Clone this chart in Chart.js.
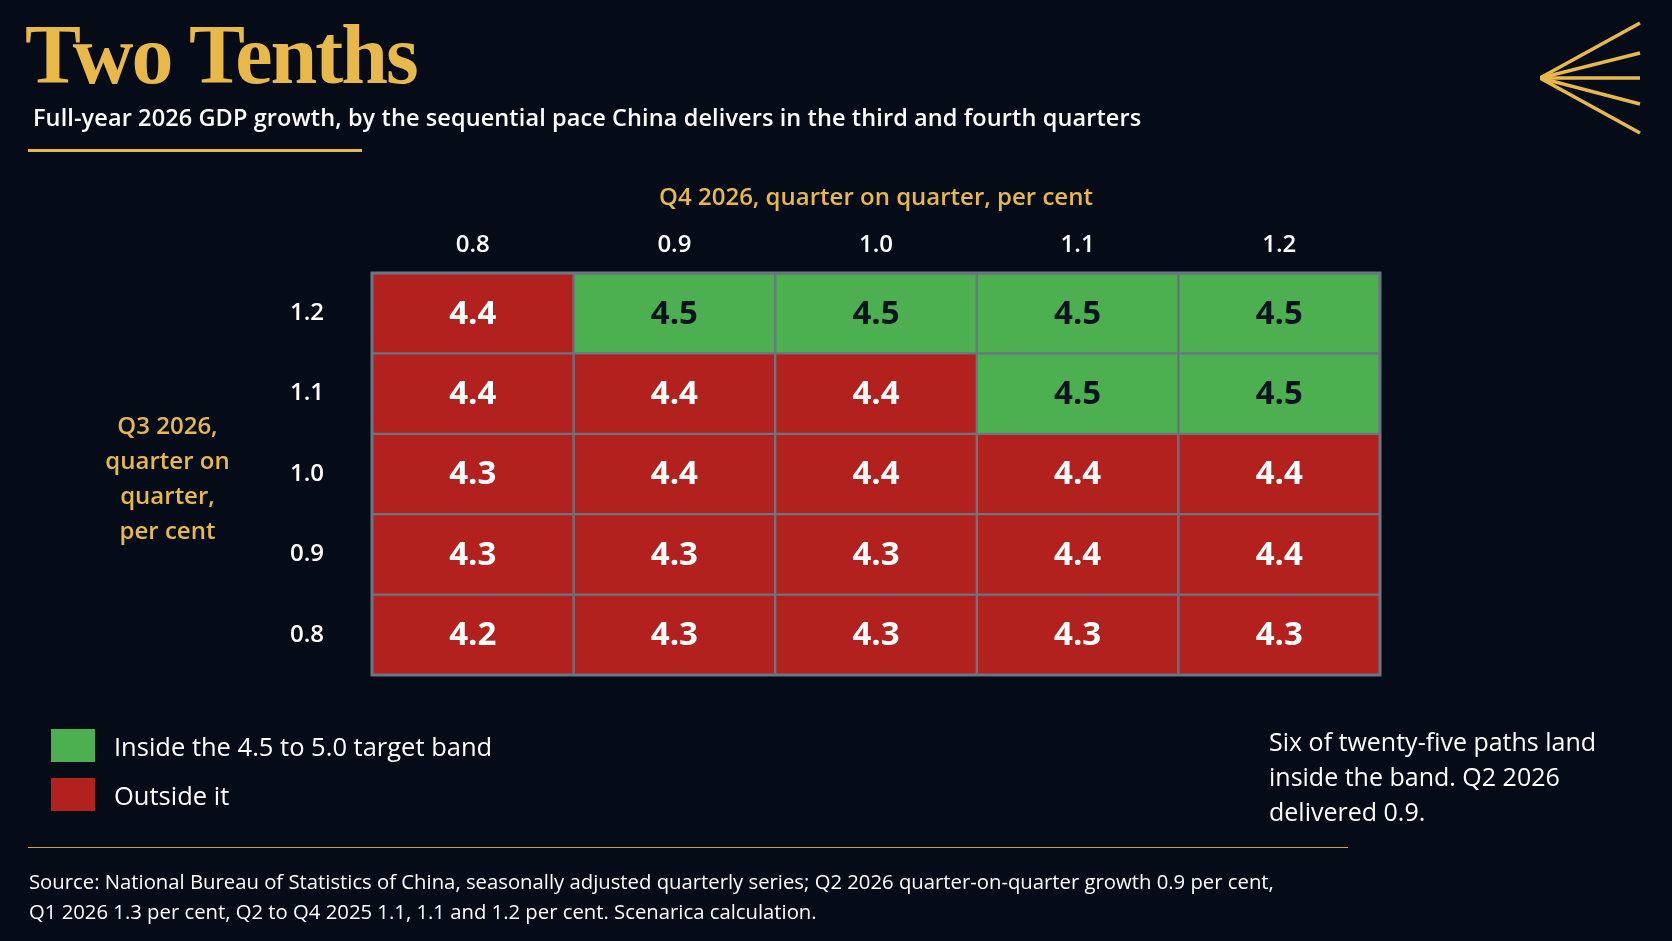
<!DOCTYPE html>
<html><head><meta charset="utf-8">
<script src="https://cdn.jsdelivr.net/npm/chart.js@4"></script>
<style>
html,body{margin:0;padding:0;background:#050c17;width:1672px;height:941px;overflow:hidden;font-family:"Open Sans",sans-serif}
#wrap{position:absolute;left:0;top:0;width:1672px;height:941px}
.t{position:absolute;white-space:nowrap}
</style></head><body>
<div id="wrap"><canvas id="c" width="1672" height="941"></canvas></div>
<div class="t" style="left:25px;top:6px;font-family:'Liberation Serif',serif;font-weight:bold;font-size:84px;color:#e8b84a;letter-spacing:-2px">Two Tenths</div>
<div class="t" style="left:33px;top:101px;font-size:23.5px;color:#fff;font-weight:600;letter-spacing:0.1px">Full-year 2026 GDP growth, by the sequential pace China delivers in the third and fourth quarters</div>
<div style="position:absolute;left:28px;top:149px;width:334px;height:3px;background:#e8b84a"></div>
<svg style="position:absolute;left:1540px;top:15px" width="130" height="130">
<g stroke="#e8b84a" stroke-width="3.5" fill="none">
<line x1="0" y1="63" x2="100" y2="8"/><line x1="0" y1="63" x2="100" y2="38"/><line x1="0" y1="63" x2="100" y2="63"/><line x1="0" y1="63" x2="100" y2="89"/><line x1="0" y1="63" x2="100" y2="118"/></g></svg>
<div class="t" style="width:167px;top:407px;text-align:center;font-size:24px;line-height:35px;color:#e8b84a;font-weight:600;white-space:normal;left:84px">Q3 2026,<br>quarter on<br>quarter,<br>per cent</div>
<div style="position:absolute;left:51px;top:729px;width:44px;height:33px;background:#4caf50"></div>
<div style="position:absolute;left:51px;top:778px;width:44px;height:33px;background:#b3211f"></div>
<div class="t" style="left:114px;top:729px;font-size:25.5px;color:#fff">Inside the 4.5 to 5.0 target band</div>
<div class="t" style="left:114px;top:778px;font-size:25.5px;color:#fff">Outside it</div>
<div class="t" style="left:1269px;top:724px;font-size:25px;line-height:35px;color:#fff;white-space:normal;width:360px">Six of twenty-five paths land inside the band. Q2 2026 delivered 0.9.</div>
<div style="position:absolute;left:28px;top:847px;width:1320px;height:1px;background:#c9a24a"></div>
<div class="t" style="left:29px;top:866px;font-size:20.3px;line-height:30px;color:#fff">Source: National Bureau of Statistics of China, seasonally adjusted quarterly series; Q2 2026 quarter-on-quarter growth 0.9 per cent,<br>Q1 2026 1.3 per cent, Q2 to Q4 2025 1.1, 1.1 and 1.2 per cent. Scenarica calculation.</div>
<script>
const q4Labels = ["0.8","0.9","1.0","1.1","1.2"];
const q3Labels = ["0.8","0.9","1.0","1.1","1.2"]; // bottom to top
const gdpByQ3 = [
  [4.2,4.3,4.3,4.3,4.3], // Q3 0.8
  [4.3,4.3,4.3,4.4,4.4], // 0.9
  [4.3,4.4,4.4,4.4,4.4], // 1.0
  [4.4,4.4,4.4,4.5,4.5], // 1.1
  [4.4,4.5,4.5,4.5,4.5]  // 1.2
];
const inBand = v => v >= 4.5;
const GREEN="#4caf50", RED="#b3211f";
const datasets = gdpByQ3.map((row,r)=>({
  data: row.map(()=>[r-0.5,r+0.5]),
  vals: row,
  backgroundColor: row.map(v=>inBand(v)?GREEN:RED),
  borderColor:"#6b7583", borderWidth:1.5, borderSkipped:false,
  barPercentage:1, categoryPercentage:1, grouped:false
}));
const textPlugin={id:"txt",afterDatasetsDraw(ch){
  const c=ch.ctx, xs=ch.scales.x, ys=ch.scales.y, a=ch.chartArea;
  c.save();c.textAlign="center";c.textBaseline="middle";
  ch.data.datasets.forEach((ds,r)=>ds.vals.forEach((v,i)=>{
    c.font="bold 33px 'Open Sans'";c.fillStyle=inBand(v)?"#0b1220":"#fff";
    c.fillText(v.toFixed(1),xs.getPixelForValue(i),ys.getPixelForValue(r)+1);
  }));
  c.strokeStyle="#6b7583";c.lineWidth=3;c.strokeRect(a.left,a.top,a.right-a.left,a.bottom-a.top);
  c.font="600 24px 'Open Sans'";c.fillStyle="#fff";
  q4Labels.forEach((l,i)=>c.fillText(l,xs.getPixelForValue(i),245));
  q3Labels.forEach((l,r)=>c.fillText(l,307,ys.getPixelForValue(r)));
  c.fillStyle="#e8b84a";c.fillText("Q4 2026, quarter on quarter, per cent",(a.left+a.right)/2,198);
  c.restore();
}};
new Chart(document.getElementById("c"),{
  type:"bar",
  data:{labels:q4Labels,datasets},
  options:{responsive:false,animation:false,
    layout:{padding:{left:372,right:292,top:273,bottom:266}},
    plugins:{legend:{display:false},tooltip:{enabled:false}},
    scales:{x:{display:false,offset:true},y:{display:false,min:-0.5,max:4.5}}
  },
  plugins:[textPlugin]
});
</script>
</body></html>
